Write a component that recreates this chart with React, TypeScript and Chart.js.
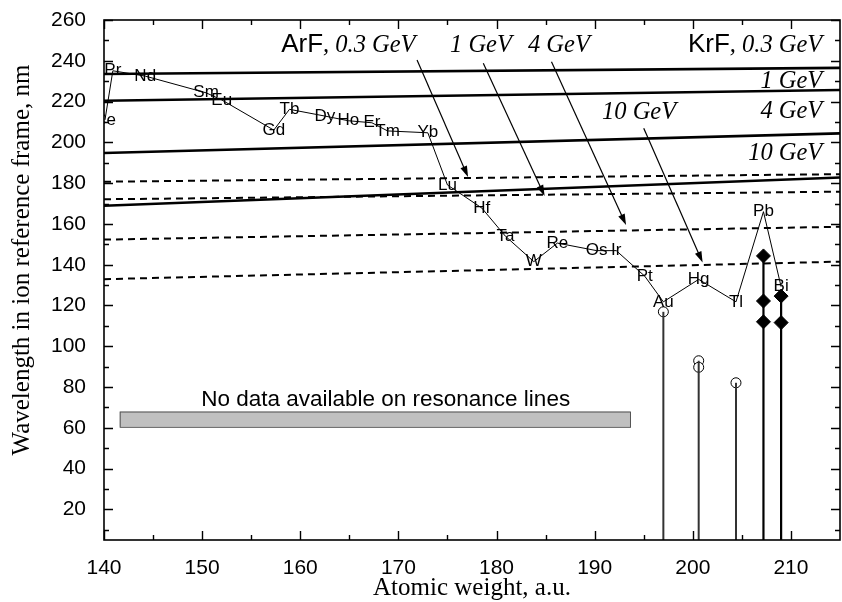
import React, { useEffect, useRef } from 'react';
import { Chart, registerables } from 'chart.js';

Chart.register(...registerables);

const SANS = '"Liberation Sans", Arial, Helvetica, sans-serif';
const SERIF = '"Liberation Serif", "Times New Roman", Times, serif';

// Axes
const X_MIN = 140;
const X_MAX = 215;
const Y_MIN = 5;
const Y_MAX = 260;
const xMajorTicks = [140, 150, 160, 170, 180, 190, 200, 210];
const xMinorTicks = [145, 155, 165, 175, 185, 195, 205];
const yMajorTicks = [20, 40, 60, 80, 100, 120, 140, 160, 180, 200, 220, 240, 260];
const yMinorTicks = [10, 30, 50, 70, 90, 110, 130, 150, 170, 190, 210, 230, 250];

// Laser lines (values at x = 140 and x = 215)
const lineWeights = [140, 215];
const krf03 = [233.5, 236.5];
const krf1 = [220.4, 225.7];
const krf4 = [194.8, 204.4];
const krf10 = [168.9, 182.8];
const arf03 = [180.7, 184.4];
const arf1 = [172.1, 175.8];
const arf4 = [152.3, 158.6];
const arf10 = [132.9, 141.5];

// Elements (resonance lines)
const elementNames = ['Ce', 'Pr', 'Nd', 'Sm', 'Eu', 'Gd', 'Tb', 'Dy', 'Ho', 'Er', 'Tm', 'Yb', 'Lu', 'Hf', 'Ta', 'W', 'Re', 'Os', 'Ir', 'Pt', 'Au', 'Hg', 'Tl', 'Pb', 'Bi'];
const elementWeights = [140.1, 140.9, 144.2, 150.4, 152.0, 157.3, 158.9, 162.5, 164.9, 167.3, 168.9, 173.0, 175.0, 178.5, 180.9, 183.8, 186.2, 190.2, 192.2, 195.1, 197.0, 200.6, 204.4, 207.2, 209.0];
const elementWavelengths = [211.0, 235.1, 232.5, 224.3, 220.8, 206.0, 216.2, 212.9, 210.6, 209.6, 205.6, 204.7, 179.1, 167.8, 154.0, 141.5, 150.6, 146.9, 146.9, 134.4, 121.8, 132.8, 121.8, 166.0, 129.2];

// Open circles with stems
const circleWeights = [197.0, 200.6, 200.6, 204.4];
const circleWavelengths = [116.9, 92.9, 89.7, 82.1];

// Filled diamonds with stems
const diamondWeights = [207.2, 207.2, 207.2, 209.0, 209.0];
const diamondWavelengths = [144.3, 122.2, 112.0, 124.6, 111.6];

// "No data" box
const noDataX = [141.6, 193.6];
const noDataY = [60.5, 68.0];
const noDataText = 'No data available on resonance lines';
const noDataTextPos = [168.7, 73.8];

// Arrows (ArF energies)
const arrowFromX = [171.9, 178.65, 185.6, 195.0];
const arrowFromY = [240.4, 238.8, 239.5, 206.9];
const arrowToX = [177.1, 184.9, 193.2, 201.0];
const arrowToY = [183.0, 173.7, 159.5, 141.1];

// ArF labels (left aligned)
const arfLabelPrefix = ['ArF', '', '', ''];
const arfLabelText = [', 0.3 GeV', '1 GeV', '4 GeV', '10 GeV'];
const arfLabelX = [158.05, 175.26, 183.2, 190.75];
const arfLabelY = [247.7, 247.7, 247.7, 214.7];

// KrF labels (right aligned)
const krfLabelPrefix = ['KrF', '', '', ''];
const krfLabelText = [', 0.3 GeV', '1 GeV', '4 GeV', '10 GeV'];
const krfLabelRightX = 213.2;
const krfLabelY = [247.7, 229.7, 215.3, 194.3];

const yTitle = 'Wavelength in ion reference frame, nm';
const xTitle = 'Atomic weight, a.u.';

function unique(a: number[]) {
  return a.filter((v, i) => a.indexOf(v) === i);
}

const overlayPlugin = {
  id: 'overlay',
  afterDatasetsDraw(chart: any) {
    const { ctx, chartArea: ca, scales } = chart;
    const xs = scales.x;
    const ys = scales.y;
    const px = (v: number) => xs.getPixelForValue(v);
    const py = (v: number) => ys.getPixelForValue(v);
    ctx.save();

    // No data box
    const bx0 = px(noDataX[0]);
    const bx1 = px(noDataX[1]);
    const by0 = py(noDataY[1]);
    const by1 = py(noDataY[0]);
    ctx.fillStyle = '#c0c0c0';
    ctx.fillRect(bx0, by0, bx1 - bx0, by1 - by0);
    ctx.strokeStyle = '#555';
    ctx.lineWidth = 1;
    ctx.strokeRect(bx0 + 0.5, by0 + 0.5, bx1 - bx0, by1 - by0);
    ctx.fillStyle = '#000';
    ctx.font = `22.5px ${SANS}`;
    ctx.textAlign = 'center';
    ctx.textBaseline = 'middle';
    ctx.fillText(noDataText, px(noDataTextPos[0]), py(noDataTextPos[1]));

    // Element labels (clipped to plot area)
    ctx.save();
    ctx.beginPath();
    ctx.rect(ca.left, ca.top, ca.right - ca.left, ca.bottom - ca.top);
    ctx.clip();
    ctx.font = `17px ${SANS}`;
    ctx.textAlign = 'center';
    ctx.textBaseline = 'middle';
    ctx.fillStyle = '#000';
    const meta = chart.getDatasetMeta(8);
    meta.data.forEach((pt: any, i: number) => {
      ctx.fillText(elementNames[i], pt.x, pt.y);
    });
    ctx.restore();

    // Arrows
    ctx.strokeStyle = '#000';
    ctx.fillStyle = '#000';
    ctx.lineWidth = 1.2;
    for (let i = 0; i < arrowFromX.length; i++) {
      const x0 = px(arrowFromX[i]);
      const y0 = py(arrowFromY[i]);
      const x1 = px(arrowToX[i]);
      const y1 = py(arrowToY[i]);
      const ang = Math.atan2(y1 - y0, x1 - x0);
      const L = 11;
      const W = 3.5;
      ctx.beginPath();
      ctx.moveTo(x0, y0);
      ctx.lineTo(x1 - Math.cos(ang) * L * 0.8, y1 - Math.sin(ang) * L * 0.8);
      ctx.stroke();
      ctx.beginPath();
      ctx.moveTo(x1, y1);
      ctx.lineTo(x1 - Math.cos(ang) * L - Math.sin(ang) * W, y1 - Math.sin(ang) * L + Math.cos(ang) * W);
      ctx.lineTo(x1 - Math.cos(ang) * L + Math.sin(ang) * W, y1 - Math.sin(ang) * L - Math.cos(ang) * W);
      ctx.closePath();
      ctx.fill();
    }

    // Energy labels
    const sansFont = `26px ${SANS}`;
    const italFont = `italic 24.5px ${SERIF}`;
    ctx.textBaseline = 'middle';
    ctx.textAlign = 'left';
    for (let i = 0; i < arfLabelText.length; i++) {
      let x = px(arfLabelX[i]);
      const y = py(arfLabelY[i]);
      if (arfLabelPrefix[i]) {
        ctx.font = sansFont;
        ctx.fillText(arfLabelPrefix[i], x, y);
        x += ctx.measureText(arfLabelPrefix[i]).width;
      }
      ctx.font = italFont;
      ctx.fillText(arfLabelText[i], x, y);
    }
    for (let i = 0; i < krfLabelText.length; i++) {
      const y = py(krfLabelY[i]);
      ctx.font = italFont;
      const tw = ctx.measureText(krfLabelText[i]).width;
      ctx.font = sansFont;
      const pw = krfLabelPrefix[i] ? ctx.measureText(krfLabelPrefix[i]).width : 0;
      let x = px(krfLabelRightX) - tw - pw;
      if (krfLabelPrefix[i]) {
        ctx.fillText(krfLabelPrefix[i], x, y);
        x += pw;
      }
      ctx.font = italFont;
      ctx.fillText(krfLabelText[i], x, y);
    }

    // Frame
    ctx.strokeStyle = '#000';
    ctx.lineWidth = 1.6;
    ctx.strokeRect(ca.left, ca.top, ca.right - ca.left, ca.bottom - ca.top);

    // Inward ticks on all sides
    ctx.lineWidth = 1.4;
    const drawX = (v: number, len: number) => {
      const x = Math.round(px(v)) + 0.5;
      ctx.beginPath();
      ctx.moveTo(x, ca.bottom);
      ctx.lineTo(x, ca.bottom - len);
      ctx.moveTo(x, ca.top);
      ctx.lineTo(x, ca.top + len);
      ctx.stroke();
    };
    const drawY = (v: number, len: number) => {
      const y = Math.round(py(v)) + 0.5;
      ctx.beginPath();
      ctx.moveTo(ca.left, y);
      ctx.lineTo(ca.left + len, y);
      ctx.moveTo(ca.right, y);
      ctx.lineTo(ca.right - len, y);
      ctx.stroke();
    };
    xMajorTicks.forEach((v) => drawX(v, 9));
    xMinorTicks.forEach((v) => drawX(v, 5));
    yMajorTicks.forEach((v) => drawY(v, 9));
    yMinorTicks.forEach((v) => drawY(v, 5));

    // Y title
    ctx.save();
    ctx.translate(22, (ca.top + ca.bottom) / 2 - 20);
    ctx.rotate(-Math.PI / 2);
    ctx.font = `25px ${SERIF}`;
    ctx.textAlign = 'center';
    ctx.textBaseline = 'middle';
    ctx.fillStyle = '#000';
    ctx.fillText(yTitle, 0, 0);
    ctx.restore();

    ctx.restore();
  },
};

export default function App() {
  const ref = useRef<HTMLCanvasElement>(null);

  useEffect(() => {
    const canvas = ref.current;
    if (!canvas) return;

    const pts = (xsArr: number[], ysArr: number[]) => xsArr.map((x, i) => ({ x, y: ysArr[i] }));

    const datasets: any[] = [];
    [krf03, krf1, krf4, krf10].forEach((vals, i) => {
      datasets.push({
        label: 'KrF ' + i,
        data: pts(lineWeights, vals),
        showLine: true,
        borderColor: '#000',
        borderWidth: 2.6,
        pointRadius: 0,
      });
    });
    [arf03, arf1, arf4, arf10].forEach((vals, i) => {
      datasets.push({
        label: 'ArF ' + i,
        data: pts(lineWeights, vals),
        showLine: true,
        borderColor: '#000',
        borderWidth: 2,
        borderDash: [7, 5],
        pointRadius: 0,
      });
    });
    // index 8: element line
    datasets.push({
      label: 'Elements',
      data: pts(elementWeights, elementWavelengths),
      showLine: true,
      borderColor: '#000',
      borderWidth: 1,
      pointRadius: 0,
    });
    // stems for circles
    unique(circleWeights).forEach((w) => {
      const top = Math.max(...circleWavelengths.filter((_, i) => circleWeights[i] === w));
      datasets.push({
        label: 'stem',
        data: [{ x: w, y: Y_MIN }, { x: w, y: top }],
        showLine: true,
        borderColor: '#333',
        borderWidth: 2,
        pointRadius: 0,
      });
    });
    unique(diamondWeights).forEach((w) => {
      const top = Math.max(...diamondWavelengths.filter((_, i) => diamondWeights[i] === w));
      datasets.push({
        label: 'stem',
        data: [{ x: w, y: Y_MIN }, { x: w, y: top }],
        showLine: true,
        borderColor: '#000',
        borderWidth: 2.2,
        pointRadius: 0,
      });
    });
    datasets.push({
      label: 'Measured',
      data: pts(circleWeights, circleWavelengths),
      showLine: false,
      pointStyle: 'circle',
      pointRadius: 5,
      pointBackgroundColor: '#fff',
      pointBorderColor: '#000',
      pointBorderWidth: 1,
    });
    datasets.push({
      label: 'Diamonds',
      data: pts(diamondWeights, diamondWavelengths),
      showLine: false,
      pointStyle: 'rectRot',
      pointRadius: 7,
      pointBackgroundColor: '#000',
      pointBorderColor: '#000',
      pointBorderWidth: 1,
    });

    const chart = new Chart(canvas, {
      type: 'scatter',
      data: { datasets },
      options: {
        responsive: false,
        animation: false,
        devicePixelRatio: 1,
        layout: { autoPadding: false, padding: { left: 0, top: 20, right: 2, bottom: 0 } },
        plugins: { legend: { display: false }, tooltip: { enabled: false } },
        scales: {
          x: {
            type: 'linear',
            min: X_MIN,
            max: X_MAX,
            grid: { display: false },
            border: { display: false },
            afterBuildTicks: (s: any) => {
              s.ticks = xMajorTicks.map((v) => ({ value: v }));
            },
            afterFit: (s: any) => {
              s.height = 62;
              s.paddingLeft = 0;
              s.paddingRight = 0;
            },
            ticks: {
              font: { family: SANS, size: 21 },
              color: '#000',
              padding: 8,
              maxRotation: 0,
              autoSkip: false,
            },
            title: {
              display: true,
              text: xTitle,
              font: { family: SERIF, size: 25, lineHeight: 1.1 },
              color: '#000',
              padding: 0,
            },
          },
          y: {
            type: 'linear',
            min: Y_MIN,
            max: Y_MAX,
            grid: { display: false },
            border: { display: false },
            afterBuildTicks: (s: any) => {
              s.ticks = yMajorTicks.map((v) => ({ value: v }));
            },
            afterFit: (s: any) => {
              s.width = 104;
              s.paddingTop = 0;
              s.paddingBottom = 0;
            },
            ticks: {
              font: { family: SANS, size: 21 },
              color: '#000',
              padding: 10,
              autoSkip: false,
            },
          },
        },
      } as any,
      plugins: [overlayPlugin],
    });

    return () => chart.destroy();
  }, []);

  return (
    <div style={{ position: 'absolute', left: 0, top: 0, width: 842, height: 602, background: '#fff' }}>
      <canvas ref={ref} width={842} height={602} style={{ display: 'block' }} />
    </div>
  );
}
